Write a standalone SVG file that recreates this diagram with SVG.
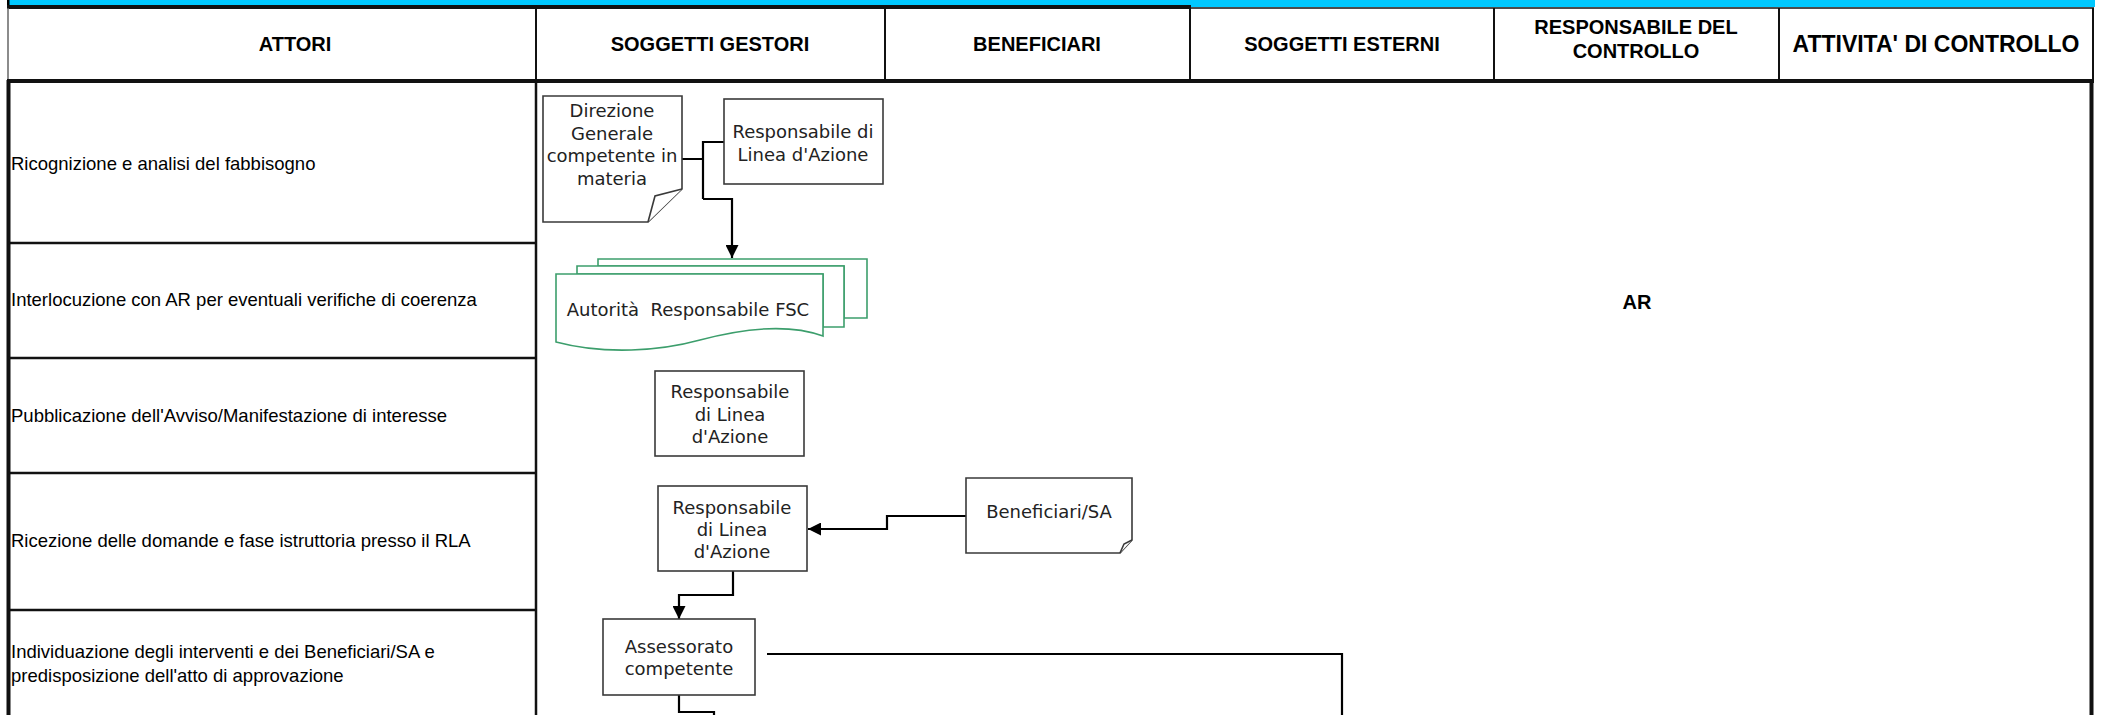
<svg xmlns="http://www.w3.org/2000/svg" width="2105" height="715" viewBox="0 0 2105 715">
<style>
.hdr{font-family:"Liberation Sans",Arial,sans-serif;font-weight:bold;font-size:20px;text-anchor:middle;fill:#000}
.row{font-family:"Liberation Sans",Arial,sans-serif;font-size:18.5px;fill:#000}
.nt{font-family:"DejaVu Sans","Liberation Sans",sans-serif;font-size:18px;text-anchor:middle;fill:#222}
.box{fill:#fff;stroke:#3a3a3a;stroke-width:1.6}
.doc{fill:#fff;stroke:#3c9e6c;stroke-width:1.6}
.grid{stroke:#111;fill:none}
.con{fill:none;stroke:#000;stroke-width:2.2}
</style>
<defs>
<marker id="arr" markerWidth="13" markerHeight="13" refX="13" refY="6.5" orient="auto" markerUnits="userSpaceOnUse">
<path d="M0,0 L13,6.5 L0,13 Z" fill="#000"/>
</marker>
</defs>
<rect x="0" y="0" width="2105" height="715" fill="#fff"/>
<g id="frame">
<rect x="8" y="0" width="2087" height="7" fill="#00c8ff"/>
<rect x="7" y="0" width="2.5" height="8" fill="#000"/>
<line class="grid" x1="7" y1="7" x2="1191" y2="7" stroke-width="4"/>
<line class="grid" x1="1190" y1="8" x2="2094" y2="8" stroke-width="1.5"/>
<line x1="8" y1="8" x2="8" y2="80" stroke="#666" stroke-width="1.5"/>
<line class="grid" x1="2093" y1="8" x2="2093" y2="80" stroke-width="2"/>
<line class="grid" x1="536" y1="8" x2="536" y2="80" stroke-width="2"/>
<line class="grid" x1="885" y1="8" x2="885" y2="80" stroke-width="2"/>
<line class="grid" x1="1190" y1="8" x2="1190" y2="80" stroke-width="2"/>
<line class="grid" x1="1494" y1="8" x2="1494" y2="80" stroke-width="2"/>
<line class="grid" x1="1779" y1="8" x2="1779" y2="80" stroke-width="2"/>
<line class="grid" x1="7" y1="81" x2="2094" y2="81" stroke-width="4"/>
<line class="grid" x1="8.5" y1="80" x2="8.5" y2="715" stroke-width="4"/>
<line class="grid" x1="2091.5" y1="80" x2="2091.5" y2="715" stroke-width="4"/>
<line class="grid" x1="536" y1="80" x2="536" y2="715" stroke-width="2.5"/>
<line class="grid" x1="8" y1="243" x2="536" y2="243" stroke-width="2.5"/>
<line class="grid" x1="8" y1="358" x2="536" y2="358" stroke-width="2.5"/>
<line class="grid" x1="8" y1="473" x2="536" y2="473" stroke-width="2.5"/>
<line class="grid" x1="8" y1="610" x2="536" y2="610" stroke-width="2.5"/>
</g>
<g id="header">
<text class="hdr" x="295" y="51">ATTORI</text>
<text class="hdr" x="710" y="51">SOGGETTI GESTORI</text>
<text class="hdr" x="1037" y="51">BENEFICIARI</text>
<text class="hdr" x="1342" y="51">SOGGETTI ESTERNI</text>
<text class="hdr" x="1636" y="34">RESPONSABILE DEL</text>
<text class="hdr" x="1636" y="58">CONTROLLO</text>
<text class="hdr" x="1936" y="52" style="font-size:23px">ATTIVITA' DI CONTROLLO</text>
</g>
<g id="rows">
<text class="row" x="11" y="170">Ricognizione e analisi del fabbisogno</text>
<text class="row" x="11" y="306">Interlocuzione con AR per eventuali verifiche di coerenza</text>
<text class="row" x="11" y="422">Pubblicazione dell'Avviso/Manifestazione di interesse</text>
<text class="row" x="11" y="547">Ricezione delle domande e fase istruttoria presso il RLA</text>
<text class="row" x="11" y="658">Individuazione degli interventi e dei Beneficiari/SA e</text>
<text class="row" x="11" y="682">predisposizione dell'atto di approvazione</text>
</g>
<g id="connectors">
<path class="con" d="M682,159 H703 M724,142 H703 V199"/>
<path class="con" d="M703,199 H732 V258" marker-end="url(#arr)"/>
<path class="con" d="M966,516 H887 V529 H808" marker-end="url(#arr)"/>
<path class="con" d="M733,571 V595 H679 V619" marker-end="url(#arr)"/>
<path class="con" d="M767,654 H1342 V715"/>
<path class="con" d="M679,695 V712 H714 V715"/>
</g>
<g id="node-direzione">
<path class="box" d="M543,96 H682 V189 L648,222 H543 Z"/>
<path class="box" d="M682,189 L655,196 L648,222" fill="none"/>
<text class="nt" x="612" y="117">Direzione</text>
<text class="nt" x="612" y="139.5">Generale</text>
<text class="nt" x="612" y="162">competente in</text>
<text class="nt" x="612" y="184.5">materia</text>
</g>
<g id="node-rla-1">
<rect class="box" x="724" y="99" width="159" height="85"/>
<text class="nt" x="803" y="138">Responsabile di</text>
<text class="nt" x="803" y="161">Linea d'Azione</text>
</g>
<g id="node-ar-fsc">
<path class="doc" d="M598,259 H867 V318 H844 V266 H598 Z"/>
<path class="doc" d="M577,266 H844 V327 H823 V274 H577 Z"/>
<path class="doc" d="M556,274 H823 V336 C790,324 745,328 700,340 C660,351 605,355 556,342 Z"/>
<text class="nt" x="688" y="316" xml:space="preserve">Autorità  Responsabile FSC</text>
</g>
<g id="node-rla-2">
<rect class="box" x="655" y="371" width="149" height="85"/>
<text class="nt" x="730" y="398">Responsabile</text>
<text class="nt" x="730" y="421">di Linea</text>
<text class="nt" x="730" y="443">d'Azione</text>
</g>
<g id="node-rla-3">
<rect class="box" x="658" y="486" width="149" height="85"/>
<text class="nt" x="732" y="514">Responsabile</text>
<text class="nt" x="732" y="536">di Linea</text>
<text class="nt" x="732" y="558">d'Azione</text>
</g>
<g id="node-beneficiari">
<path class="box" d="M966,478 H1132 V540 L1120,553 H966 Z"/>
<path class="box" d="M1132,540 L1124,544 L1120,553" fill="none"/>
<text class="nt" x="1049" y="518">Beneficiari/SA</text>
</g>
<g id="node-assessorato">
<rect class="box" x="603" y="619" width="152" height="76"/>
<text class="nt" x="679" y="653">Assessorato</text>
<text class="nt" x="679" y="675">competente</text>
</g>
<g id="label-ar">
<text class="hdr" x="1637" y="309">AR</text>
</g>
</svg>
